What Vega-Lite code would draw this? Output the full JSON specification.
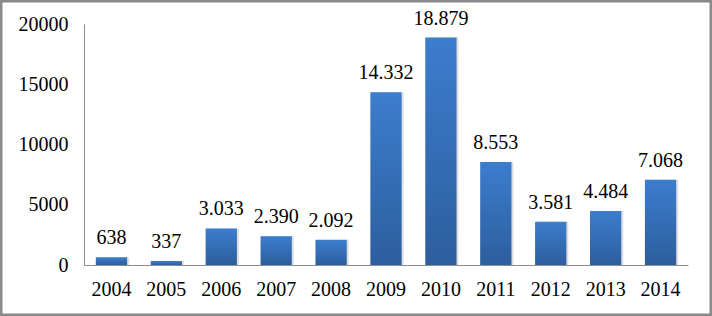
{
  "$schema": "https://vega.github.io/schema/vega-lite/v6.json",
  "width": 712,
  "height": 316,
  "padding": 0,
  "autosize": {"type": "none"},
  "background": "white",
  "config": {
    "view": {"stroke": "#8a8a8a", "strokeWidth": 5, "fill": "white"},
    "font": "'Liberation Serif', 'Times New Roman', serif",
    "locale": {"number": {"decimal": ",", "thousands": ".", "grouping": [3], "currency": ["", ""]}}
  },
  "data": {
    "values": [
      {"year": "2004", "value": 638},
      {"year": "2005", "value": 337},
      {"year": "2006", "value": 3033},
      {"year": "2007", "value": 2390},
      {"year": "2008", "value": 2092},
      {"year": "2009", "value": 14332},
      {"year": "2010", "value": 18879},
      {"year": "2011", "value": 8553},
      {"year": "2012", "value": 3581},
      {"year": "2013", "value": 4484},
      {"year": "2014", "value": 7068}
    ]
  },
  "encoding": {
    "x": {
      "field": "year",
      "type": "ordinal",
      "scale": {"range": [84, 688], "paddingInner": 0.43, "paddingOuter": 0.215},
      "axis": {
        "title": null,
        "labelAngle": 0,
        "offset": -51,
        "ticks": false,
        "domainColor": "#8c8c8c",
        "domainWidth": 1,
        "labelFont": "'Liberation Serif', 'Times New Roman', serif",
        "labelFontSize": 20,
        "labelColor": "black",
        "labelPadding": 14
      }
    },
    "y": {
      "field": "value",
      "type": "quantitative",
      "scale": {"domain": [0, 20000], "range": [265, 24], "nice": false, "zero": true},
      "axis": {
        "title": null,
        "values": [0, 5000, 10000, 15000, 20000],
        "format": "d",
        "offset": -84,
        "ticks": false,
        "grid": false,
        "domainColor": "#8c8c8c",
        "domainWidth": 1,
        "labelFont": "'Liberation Serif', 'Times New Roman', serif",
        "labelFontSize": 20,
        "labelColor": "black",
        "labelPadding": 16
      }
    }
  },
  "layer": [
    {
      "mark": {"type": "bar", "color": "#b8b8b8", "opacity": 0.45, "xOffset": 2, "y2Offset": 0}
    },
    {
      "mark": {
        "type": "bar",
        "color": {
          "gradient": "linear",
          "x1": 0, "y1": 0, "x2": 0, "y2": 1,
          "stops": [
            {"offset": 0, "color": "#3c7dcd"},
            {"offset": 1, "color": "#2d5e9e"}
          ]
        }
      }
    },
    {
      "mark": {
        "type": "text",
        "baseline": "alphabetic",
        "dy": -13,
        "font": "'Liberation Serif', 'Times New Roman', serif",
        "fontSize": 20,
        "color": "black"
      },
      "encoding": {
        "text": {"field": "value", "type": "quantitative", "format": ",d"}
      }
    }
  ]
}
